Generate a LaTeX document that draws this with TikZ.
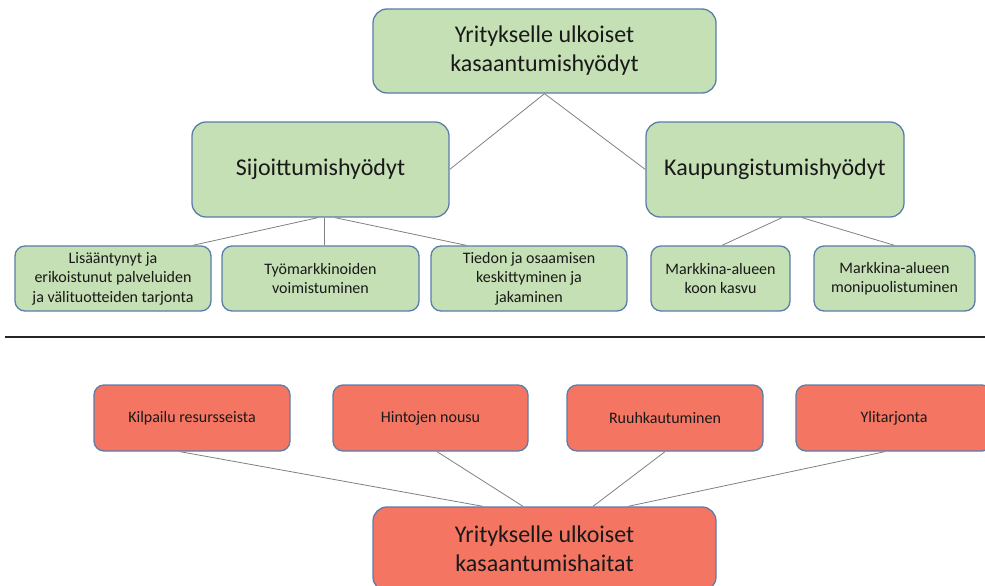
\documentclass[tikz,border=0pt]{standalone}
\usepackage{fontspec}
\setmainfont{Carlito}
\definecolor{boxgreen}{HTML}{C5E0B4}
\definecolor{boxred}{HTML}{F57563}
\definecolor{boxedge}{HTML}{5A7DAA}
\definecolor{linkgray}{HTML}{808080}
\tikzset{
  basebox/.style={draw=boxedge, line width=1.3pt, align=center, inner sep=2pt, text=black!90},
  bigbox/.style={basebox, rounded corners=14pt, font=\fontsize{24}{29}\selectfont},
  midbox/.style={basebox, fill=boxgreen, rounded corners=14pt, font=\fontsize{24}{29}\selectfont,
    minimum width=257pt, minimum height=95pt},
  smallgreen/.style={basebox, fill=boxgreen, rounded corners=10pt, font=\fontsize{16}{19.5}\selectfont,
    minimum height=65pt},
  smallred/.style={basebox, fill=boxred, rounded corners=10pt, font=\fontsize{16}{19}\selectfont,
    minimum width=196pt, minimum height=66pt},
  link/.style={draw=linkgray, line width=0.8pt}
}
\begin{document}
\begin{tikzpicture}[x=1pt, y=-1pt]
\useasboundingbox (0,0) rectangle (985,586);
\clip (0,0) rectangle (985,586);

% benefits (upper half)
\node[bigbox, fill=boxgreen, minimum width=343pt, minimum height=84pt] (top) at (544.5,51)
  {Yritykselle ulkoiset\\kasaantumishyödyt};
\node[midbox] (sij) at (320.5,169.5) {Sijoittumishyödyt};
\node[midbox, minimum width=258pt] (kau) at (775,169.5) {Kaupungistumishyödyt};

\node[smallgreen, minimum width=196pt] (lis) at (113,278.5)
  {Lisääntynyt ja\\erikoistunut palveluiden\\ja välituotteiden tarjonta};
\node[smallgreen, minimum width=197pt] (tyo) at (320.5,278.5)
  {Työmarkkinoiden\\voimistuminen};
\node[smallgreen, minimum width=196pt] (tie) at (529,278.5)
  {Tiedon ja osaamisen\\keskittyminen ja\\jakaminen};
\node[smallgreen, minimum width=139pt] (koon) at (720.5,278.5)
  {Markkina-alueen\\koon kasvu};
\node[smallgreen, minimum width=161pt] (moni) at (894.5,278.5)
  {Markkina-alueen\\monipuolistuminen};

\draw[link] (top.south) -- (sij.east);
\draw[link] (top.south) -- (kau.west);
\draw[link] ([xshift=-2.5pt]sij.south) -- ([xshift=-19pt]lis.north east);
\draw[link] ([xshift=3.5pt]sij.south) -- ([xshift=3.5pt]tyo.north);
\draw[link] ([xshift=14.5pt]sij.south) -- ([xshift=36pt]tie.north west);
\draw[link] ([xshift=7pt]kau.south) -- ([xshift=1.5pt]koon.north);
\draw[link] ([xshift=27pt]kau.south) -- (moni.north);

% divider
\coordinate (divl) at (5,337);
\coordinate (divr) at (985,337);
\draw[line width=1.8pt, black!85] (divl) -- (divr);

% drawbacks (lower half)
\node[smallred] (kil) at (192,418) {Kilpailu resursseista};
\node[smallred, minimum width=195pt] (hin) at (430.5,418) {Hintojen nousu};
\node[smallred] (ruu) at (665,418) {Ruuhkautuminen};
\node[smallred] (yli) at (894,418) {Ylitarjonta};
\node[bigbox, fill=boxred, minimum width=343pt, minimum height=84pt] (bot) at (544.5,549)
  {Yritykselle ulkoiset\\kasaantumishaitat};

\draw[link] ([xshift=-12pt]kil.south) -- ([xshift=-61.5pt]bot.north);
\draw[link] ([xshift=6.5pt]hin.south) -- ([xshift=-21.5pt]bot.north);
\draw[link] (ruu.south) -- ([xshift=48.5pt]bot.north);
\draw[link] ([xshift=-9pt]yli.south) -- ([xshift=83.5pt]bot.north);
\end{tikzpicture}
\end{document}
